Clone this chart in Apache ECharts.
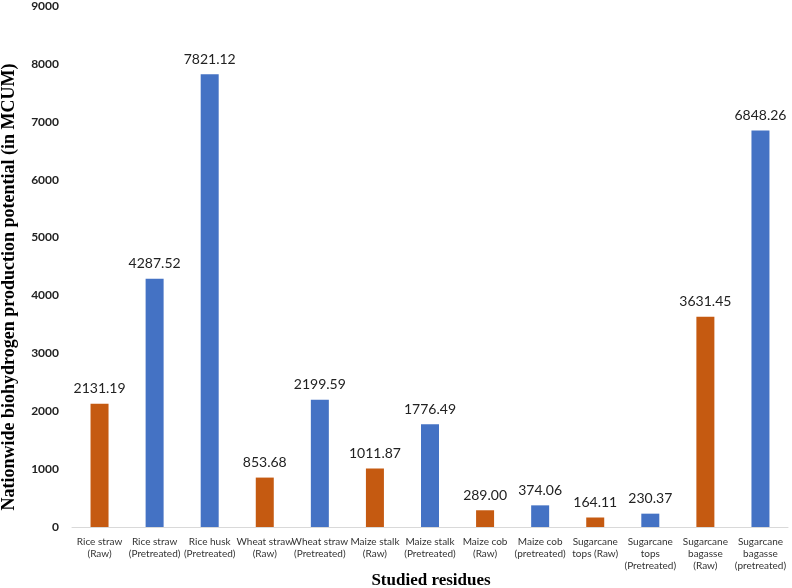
<!DOCTYPE html>
<html>
<head>
<meta charset="utf-8">
<script src="https://cdn.jsdelivr.net/npm/echarts@6/dist/echarts.min.js"></script>
<style>
  html, body { margin: 0; padding: 0; background: #fff; }
  #chart { width: 792px; height: 588px; }
</style>
</head>
<body>
<div id="chart"></div>
<script>
const residues = [
  'Rice straw\n(Raw)', 'Rice straw\n(Pretreated)', 'Rice husk\n(Pretreated)',
  'Wheat straw\n(Raw)', 'Wheat straw\n(Pretreated)', 'Maize stalk\n(Raw)',
  'Maize stalk\n(Pretreated)', 'Maize cob\n(Raw)', 'Maize cob\n(pretreated)',
  'Sugarcane\ntops (Raw)', 'Sugarcane\ntops\n(Pretreated)', 'Sugarcane\nbagasse\n(Raw)',
  'Sugarcane\nbagasse\n(pretreated)'
];
const potential = [2131.19, 4287.52, 7821.12, 853.68, 2199.59, 1011.87, 1776.49,
  289.00, 374.06, 164.11, 230.37, 3631.45, 6848.26];
// raw = orange, pretreated = blue
const isRaw = [true, false, false, true, false, true, false, true, false, true, false, true, false];

const serif = '"Liberation Serif", "Times New Roman", serif';
const sans = 'Lato, "Open Sans", sans-serif';

const chart = echarts.init(document.getElementById('chart'));

chart.setOption({
  animation: false,
  grid: { left: 72, right: 4, top: 4, bottom: 61 },
  graphic: [
    {
      type: 'text',
      x: 431, y: 581,
      style: {
        text: 'Studied residues',
        font: 'bold 17px ' + serif,
        fill: '#000',
        align: 'center',
        verticalAlign: 'middle'
      }
    },
    {
      type: 'text',
      x: 9, y: 287,
      rotation: Math.PI / 2,
      style: {
        text: 'Nationwide biohydrogen production potential (in MCUM)',
        font: 'bold 18px ' + serif,
        fill: '#000',
        align: 'center',
        verticalAlign: 'middle'
      }
    }
  ],
  xAxis: {
    type: 'category',
    data: residues,
    axisLine: { lineStyle: { color: '#d9d9d9' } },
    axisTick: { show: false },
    axisLabel: {
      interval: 0,
      color: '#333',
      fontFamily: sans,
      fontSize: 10,
      lineHeight: 12,
      margin: 9
    }
  },
  yAxis: {
    type: 'value',
    min: 0, max: 9000, interval: 1000,
    axisLine: { show: false },
    axisTick: { show: false },
    splitLine: { show: false },
    axisLabel: {
      color: '#222',
      fontFamily: sans,
      fontWeight: 'bold',
      fontSize: 12,
      margin: 13,
      formatter: function (v) { return String(v); }
    }
  },
  series: [{
    type: 'bar',
    data: potential,
    barWidth: 18,
    itemStyle: {
      color: function (p) { return isRaw[p.dataIndex] ? '#C55A11' : '#4472C4'; }
    },
    label: {
      show: true,
      position: 'top',
      distance: 8,
      color: '#222',
      fontFamily: sans,
      fontSize: 14,
      formatter: function (p) { return p.value.toFixed(2); }
    }
  }]
});
</script>
</body>
</html>
